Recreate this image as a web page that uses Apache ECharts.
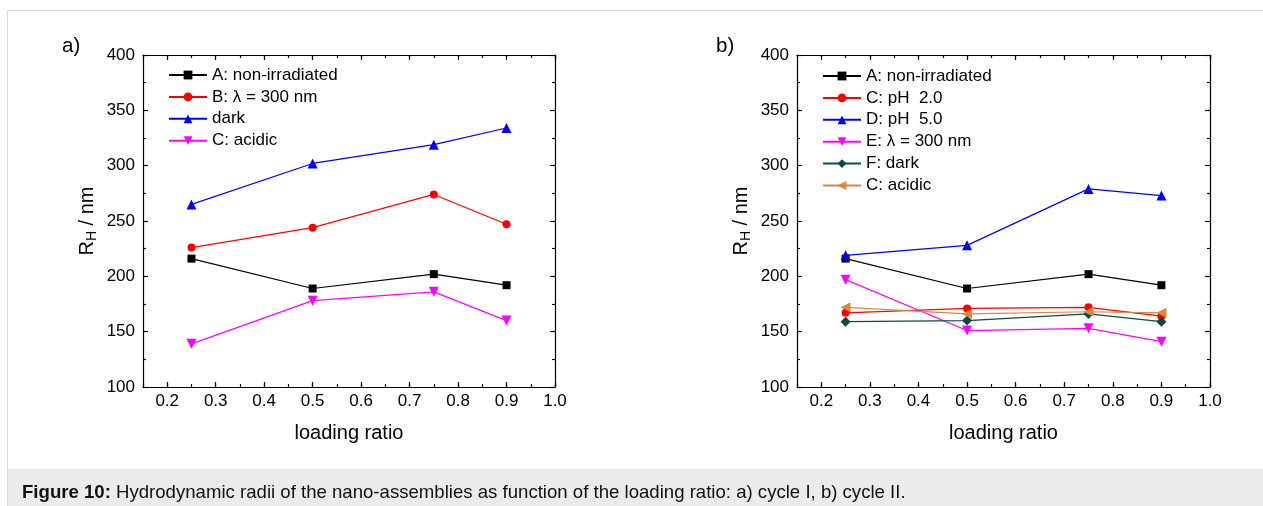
<!DOCTYPE html>
<html>
<head>
<meta charset="utf-8">
<script src="https://cdn.jsdelivr.net/npm/echarts@6/dist/echarts.min.js"></script>
<style>
html,body{margin:0;padding:0;background:#fff;}
#chart{width:1263px;height:506px;}
</style>
</head>
<body>
<div id="chart"></div>
<script>
// ---- data ----
const loadingRatio = [0.25, 0.5, 0.75, 0.9];
const xTickValues = [0.2, 0.3, 0.4, 0.5, 0.6, 0.7, 0.8, 0.9, 1.0];
const yTickValues = [100, 150, 200, 250, 300, 350, 400];

// cycle I (panel a)
const a_nonIrradiated = [216, 189, 202, 192];
const a_lambda300     = [226, 244, 274, 247];
const a_dark          = [265, 302, 319, 334];
const a_acidic        = [139, 178, 186, 160];

// cycle II (panel b)
const b_nonIrradiated = [216, 189, 202, 192];
const b_pH2           = [167, 171, 172, 164];
const b_pH5           = [219, 228, 279, 273];
const b_lambda300     = [197, 151, 153, 141];
const b_dark          = [159, 160, 166, 159];
const b_acidic        = [172, 166, 168, 167];

const namesA = ['A: non-irradiated', 'B: \u03bb = 300 nm', 'dark', 'C: acidic'];
const namesB = ['A: non-irradiated', 'C: pH  2.0', 'D: pH  5.0', 'E: \u03bb = 300 nm', 'F: dark', 'C: acidic '];

const FONT = 'Liberation Sans, Arial, sans-serif';
const AX = { color: '#000', width: 1.2 };

function pairs(vals) { return loadingRatio.map((x, i) => [x, vals[i]]); }

function xAxesFor(g) {
  const base = { type: 'value', gridIndex: g, min: 0.15, max: 1.0, splitLine: { show: false } };
  return [
    Object.assign({}, base, {
      position: 'bottom',
      axisLine: { lineStyle: AX },
      axisTick: { inside: true, length: 5, customValues: xTickValues, lineStyle: AX },
      axisLabel: { customValues: xTickValues, formatter: v => v.toFixed(1), fontSize: 17, color: '#000', fontFamily: FONT, margin: 6 },
      name: 'loading ratio', nameLocation: 'middle', nameGap: 36,
      nameTextStyle: { fontSize: 20, color: '#000', fontFamily: FONT }
    }),
    Object.assign({}, base, {
      position: 'bottom', interval: 0.05,
      axisLine: { show: false },
      axisTick: { inside: true, length: 3, lineStyle: AX },
      axisLabel: { show: false }
    }),
    Object.assign({}, base, {
      position: 'top',
      axisLine: { lineStyle: AX },
      axisTick: { inside: true, length: 5, customValues: xTickValues, lineStyle: AX },
      axisLabel: { show: false }
    }),
    Object.assign({}, base, {
      position: 'top', interval: 0.05,
      axisLine: { show: false },
      axisTick: { inside: true, length: 3, lineStyle: AX },
      axisLabel: { show: false }
    })
  ];
}

function yAxesFor(g) {
  const base = {
    type: 'value', gridIndex: g, min: yTickValues[0], max: yTickValues[yTickValues.length - 1], interval: 50,
    splitLine: { show: false },
    axisLine: { lineStyle: AX },
    axisTick: { inside: true, length: 5, lineStyle: AX },
    minorTick: { show: true, splitNumber: 2, length: 3, lineStyle: AX }
  };
  return [
    Object.assign({}, base, {
      position: 'left',
      axisLabel: { fontSize: 17, color: '#000', fontFamily: FONT, margin: 8 },
      name: '{n|R}{sub|H}{n| / nm}', nameLocation: 'middle', nameGap: 44,
      nameTextStyle: {
        color: '#000', fontFamily: FONT, fontSize: 20,
        rich: {
          n: { fontSize: 20, color: '#000', fontFamily: FONT },
          sub: { fontSize: 14, color: '#000', fontFamily: FONT, padding: [10, 0, 0, 0] }
        }
      }
    }),
    Object.assign({}, base, { position: 'right', axisLabel: { show: false } })
  ];
}

function ser(name, vals, g, color, symbol, size, rot) {
  return {
    name: name, type: 'line', xAxisIndex: g * 4, yAxisIndex: g * 2,
    data: pairs(vals), symbol: symbol, symbolSize: size, symbolRotate: rot || 0,
    itemStyle: { color: color }, lineStyle: { color: color, width: 1.2 },
    emphasis: { disabled: true }, animation: false
  };
}

const legendBase = {
  orient: 'vertical', itemWidth: 38, itemHeight: 11, itemGap: 4.9, padding: 0,
  textStyle: { fontSize: 17, color: '#000', fontFamily: FONT },
  selectedMode: false
};

const option = {
  backgroundColor: '#fff',
  animation: false,
  grid: [
    { left: 143, top: 55, width: 412, height: 332 },
    { left: 797, top: 55, width: 413, height: 332 }
  ],
  xAxis: xAxesFor(0).concat(xAxesFor(1)),
  yAxis: yAxesFor(0).concat(yAxesFor(1)),
  legend: [
    Object.assign({}, legendBase, { data: namesA, left: 168, top: 66.5 }),
    Object.assign({}, legendBase, { data: namesB, left: 822, top: 67.5 })
  ],
  series: [
    ser(namesA[0], a_nonIrradiated, 0, '#000000', 'rect', 8),
    ser(namesA[1], a_lambda300, 0, '#ff0000', 'circle', 8),
    ser(namesA[2], a_dark, 0, '#0000ff', 'triangle', 10),
    ser(namesA[3], a_acidic, 0, '#ff00ff', 'triangle', 10, 180),
    ser(namesB[0], b_nonIrradiated, 1, '#000000', 'rect', 8),
    ser(namesB[1], b_pH2, 1, '#ff0000', 'circle', 8),
    ser(namesB[2], b_pH5, 1, '#0000ff', 'triangle', 10),
    ser(namesB[3], b_lambda300, 1, '#ff00ff', 'triangle', 10, 180),
    ser(namesB[4], b_dark, 1, '#0b4a42', 'diamond', 10),
    ser(namesB[5], b_acidic, 1, '#d58a3c', 'triangle', 10, 90)
  ],
  graphic: [
    { type: 'rect', shape: { x: 7, y: 469, width: 1256, height: 37 }, style: { fill: '#ebebeb' }, silent: true },
    { type: 'line', shape: { x1: 7, y1: 10.5, x2: 1263, y2: 10.5 }, style: { stroke: '#dcdcdc', lineWidth: 1 }, silent: true },
    { type: 'line', shape: { x1: 7.5, y1: 10.5, x2: 7.5, y2: 506 }, style: { stroke: '#dcdcdc', lineWidth: 1 }, silent: true },
    { type: 'text', x: 62, y: 36, style: { text: 'a)', fontSize: 20.5, fill: '#000', fontFamily: FONT }, silent: true },
    { type: 'text', x: 716, y: 36, style: { text: 'b)', fontSize: 20.5, fill: '#000', fontFamily: FONT }, silent: true },
    { type: 'text', x: 22, y: 483, style: {
        text: '{b|Figure 10:} Hydrodynamic radii of the nano-assemblies as function of the loading ratio: a) cycle I, b) cycle II.',
        fontSize: 18.6, fill: '#111', fontFamily: FONT,
        rich: { b: { fontWeight: 'bold', fontSize: 18.6, fill: '#111', fontFamily: FONT } }
      }, silent: true }
  ]
};

const chart = echarts.init(document.getElementById('chart'), null, { renderer: 'canvas' });
chart.setOption(option);
</script>
</body>
</html>
